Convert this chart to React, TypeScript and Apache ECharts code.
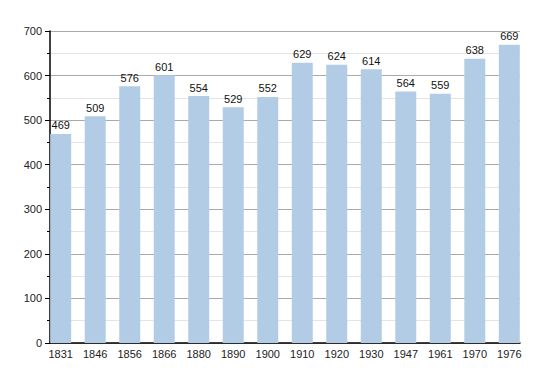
import React, { useEffect, useRef } from "react";
import * as echarts from "echarts";

const years = ["1831", "1846", "1856", "1866", "1880", "1890", "1900", "1910", "1920", "1930", "1947", "1961", "1970", "1976"];
const population = [469, 509, 576, 601, 554, 529, 552, 629, 624, 614, 564, 559, 638, 669];
const yTicks = [0, 100, 200, 300, 400, 500, 600, 700];

export default function App() {
  const ref = useRef<HTMLDivElement>(null);
  useEffect(() => {
    if (!ref.current) return;
    const chart = echarts.init(ref.current, undefined, { renderer: "svg" });
    const font = "'Liberation Sans', Arial, sans-serif";
    chart.setOption({
      animation: false,
      grid: { left: 50, right: 30, top: 31, bottom: 30 },
      xAxis: {
        type: "value",
        min: -0.31,
        max: 13.31,
        axisLine: { show: true, onZero: false, lineStyle: { color: "#000", width: 1.5 } },
        axisTick: { show: false },
        splitLine: { show: false },
        axisLabel: {
          customValues: years.map((_, i) => i),
          formatter: (v: number) => years[Math.round(v)] ?? "",
          color: "#222",
          fontSize: 11,
          fontFamily: font,
          margin: 5,
        },
      },
      yAxis: {
        type: "value",
        min: yTicks[0],
        max: yTicks[yTicks.length - 1],
        interval: 100,
        axisLine: { show: true, onZero: false, lineStyle: { color: "#000", width: 1.5 } },
        axisTick: { show: true, length: 5, lineStyle: { color: "#000" } },
        minorTick: { show: true, splitNumber: 2, length: 3, lineStyle: { color: "#000" } },
        splitLine: { show: true, lineStyle: { color: "#aaaaaa", width: 1 } },
        minorSplitLine: { show: true, lineStyle: { color: "#e4e4e4", width: 1 } },
        axisLabel: { color: "#222", fontSize: 11, fontFamily: font, margin: 8 },
      },
      series: [
        {
          type: "bar",
          data: population.map((v, i) => [i, v]),
          barWidth: 21,
          itemStyle: { color: "#b3cce6" },
          label: {
            show: true,
            position: "top",
            distance: 3,
            color: "#111",
            fontSize: 11,
            fontFamily: font,
          },
        },
      ],
    });
    return () => chart.dispose();
  }, []);
  return <div ref={ref} style={{ position: "absolute", left: 0, top: 0, width: 550, height: 373 }} />;
}
